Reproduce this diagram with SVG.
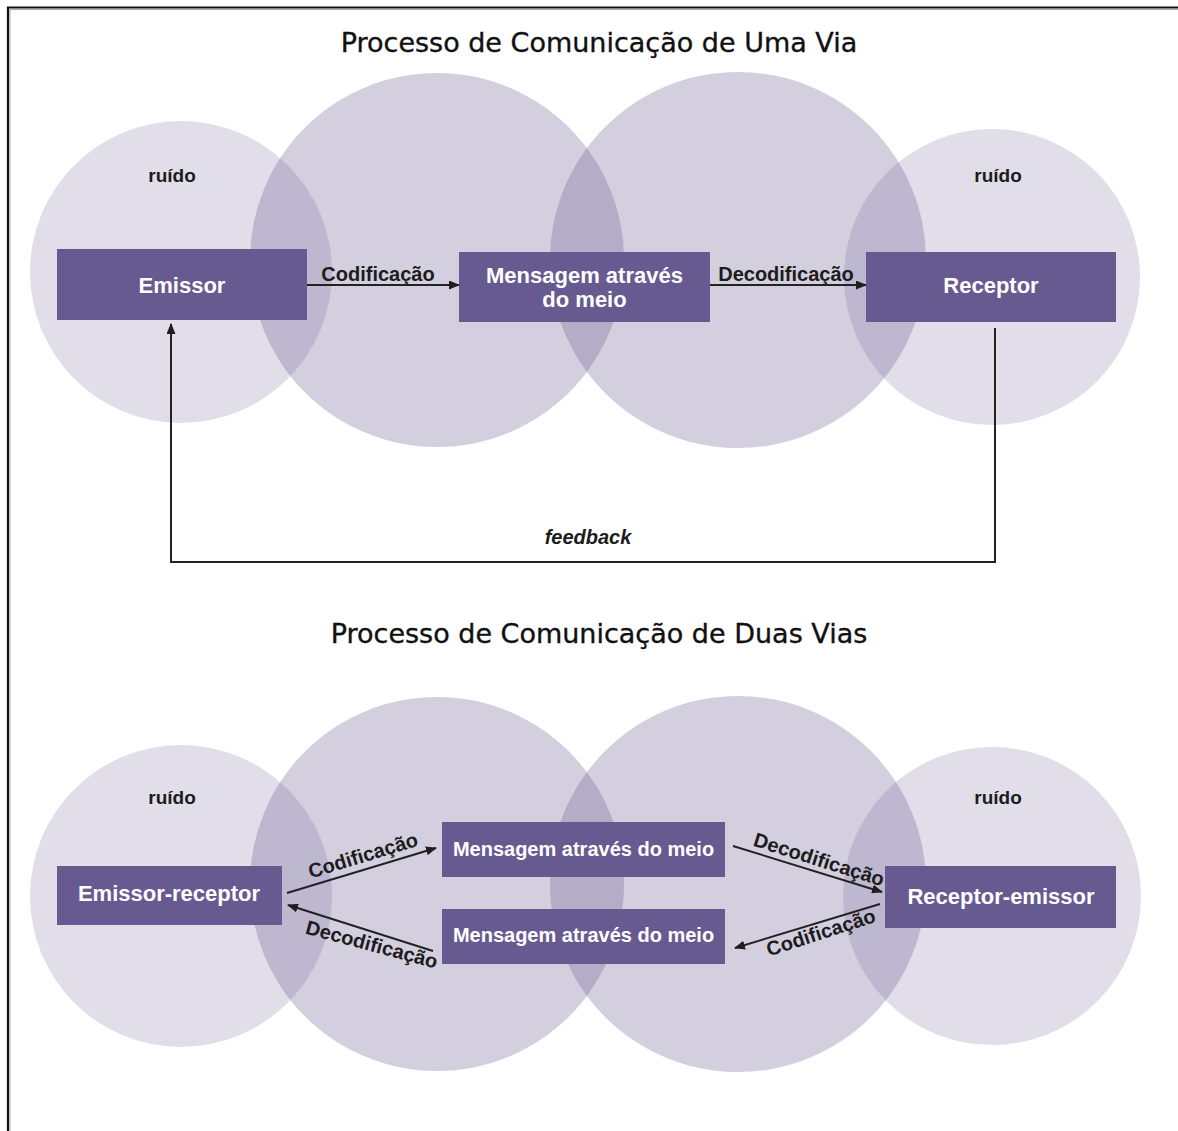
<svg xmlns="http://www.w3.org/2000/svg" width="1178" height="1131" viewBox="0 0 1178 1131">
<defs>
<marker id="ah" markerUnits="userSpaceOnUse" markerWidth="11" markerHeight="9" refX="10" refY="4.5" orient="auto">
<path d="M0,0 L11,4.5 L0,9 z" fill="#1e1e1e"/>
</marker>
<style>
.small{fill:#675a92;fill-opacity:0.2}
.big{fill:#675a92;fill-opacity:0.29}
.box{fill:#665a91}
.bt{font-family:"Liberation Sans",Arial,sans-serif;font-weight:bold;fill:#fff;text-anchor:middle;font-size:22px}
.lbl{font-family:"Liberation Sans",Arial,sans-serif;font-weight:bold;fill:#1c1c1c;text-anchor:middle;font-size:20px}
.title{font-family:"DejaVu Sans",Verdana,sans-serif;fill:#111;stroke:#111;stroke-width:0.35;text-anchor:middle;font-size:27px}
.ln{stroke:#222;stroke-width:2;fill:none}
</style>
</defs>
<rect width="1178" height="1131" fill="#fff"/>
<g id="border" fill="none">
<path d="M10,1131 V9.5 H1178" stroke="#aaa" stroke-width="1"/>
<path d="M8,1131 V7.5 H1178" stroke="#111" stroke-width="2.2"/>
</g>
<text class="title" x="599" y="52">Processo de Comunicação de Uma Via</text>
<text class="title" x="599" y="643">Processo de Comunicação de Duas Vias</text>

<g id="background-top">
<circle class="small" cx="181" cy="272" r="151"/>
<circle class="big" cx="437" cy="260" r="187"/>
<circle class="big" cx="738" cy="260" r="188"/>
<circle class="small" cx="992" cy="277" r="148"/>
</g>
<g id="background-bottom">
<circle class="small" cx="181" cy="896" r="151"/>
<circle class="big" cx="437" cy="884" r="187"/>
<circle class="big" cx="738" cy="884" r="188"/>
<circle class="small" cx="992" cy="896" r="149"/>
</g>

<g id="noise-labels" class="lbl" style="font-size:19px">
<text x="172" y="182">ruído</text>
<text x="998" y="182">ruído</text>
<text x="172" y="804">ruído</text>
<text x="998" y="804">ruído</text>
</g>

<g id="connectors">
<line class="ln" x1="307" y1="285" x2="459" y2="285" marker-end="url(#ah)"/>
<line class="ln" x1="710" y1="285" x2="866" y2="285" marker-end="url(#ah)"/>
<path class="ln" d="M995,328 V562 H171 V324" marker-end="url(#ah)"/>
<line class="ln" x1="287" y1="893" x2="436" y2="848" marker-end="url(#ah)"/>
<line class="ln" x1="433" y1="951" x2="288" y2="905" marker-end="url(#ah)"/>
<line class="ln" x1="733" y1="846" x2="882" y2="892" marker-end="url(#ah)"/>
<line class="ln" x1="880" y1="904" x2="735" y2="948" marker-end="url(#ah)"/>
<text class="lbl" x="378" y="281">Codificação</text>
<text class="lbl" x="786" y="281">Decodificação</text>
<text class="lbl" x="588" y="544" font-style="italic">feedback</text>
<text class="lbl" transform="translate(365,862) rotate(-17)">Codificação</text>
<text class="lbl" transform="translate(370,951) rotate(15)">Decodificação</text>
<text class="lbl" transform="translate(817,866) rotate(17.5)">Decodificação</text>
<text class="lbl" transform="translate(823,939) rotate(-18)">Codificação</text>
</g>

<g id="emissor">
<rect class="box" x="57" y="249" width="250" height="71"/>
<text class="bt" x="182" y="293">Emissor</text>
</g>
<g id="mensagem">
<rect class="box" x="459" y="252" width="251" height="70"/>
<text class="bt" x="584.5" y="283">Mensagem através</text>
<text class="bt" x="584.5" y="307">do meio</text>
</g>
<g id="receptor">
<rect class="box" x="866" y="252" width="250" height="70"/>
<text class="bt" x="991" y="293">Receptor</text>
</g>
<g id="emissor-receptor">
<rect class="box" x="57" y="866" width="225" height="59"/>
<text class="bt" x="169" y="901">Emissor-receptor</text>
</g>
<g id="mensagem-ida">
<rect class="box" x="442" y="822" width="283" height="55"/>
<text class="bt" x="583.5" y="856" style="font-size:20px">Mensagem através do meio</text>
</g>
<g id="mensagem-volta">
<rect class="box" x="442" y="909" width="283" height="55"/>
<text class="bt" x="583.5" y="942" style="font-size:20px">Mensagem através do meio</text>
</g>
<g id="receptor-emissor">
<rect class="box" x="885" y="866" width="231" height="62"/>
<text class="bt" x="1001" y="904">Receptor-emissor</text>
</g>
</svg>
